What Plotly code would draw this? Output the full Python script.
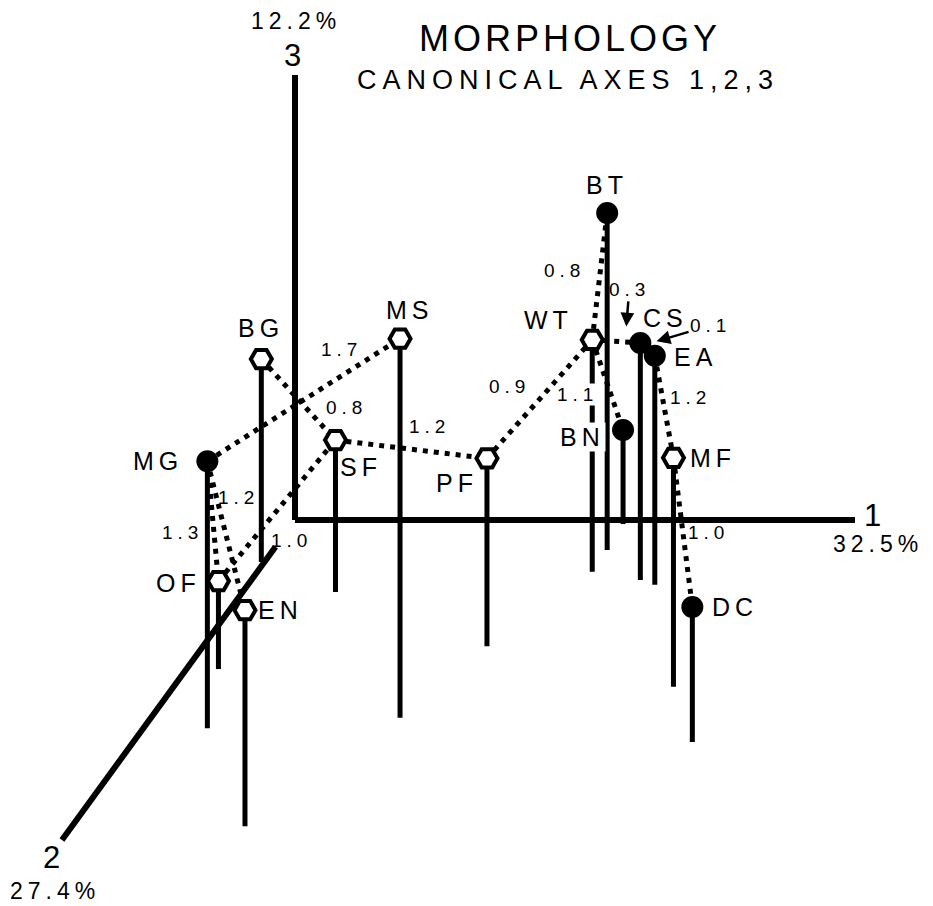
import plotly.graph_objects as go

# ---------------- data (canonical scores) ----------------
groups = ["MG", "BG", "OF", "EN", "SF", "MS", "PF", "WT", "BT", "BN", "CS", "EA", "MF", "DC"]
axis1 = [0.64, -0.03, 0.32, 1.73, 0.93, 2.49, 2.84, 3.35, 3.34, 3.31, 3.89, 4.07, 5.00, 5.59]
axis2 = [2.57, 0.52, 1.84, 3.78, 0.89, 2.44, 1.56, 0.64, 0.37, 0.05, 0.74, 0.80, 2.06, 2.74]
axis3 = [2.67, 2.03, 0.88, 2.16, 1.52, 3.79, 1.88, 2.32, 3.37, 0.94, 2.37, 2.29, 2.29, 1.35]
group_kind = ["closed", "open", "open", "open", "open", "open", "open",
              "open", "closed", "closed", "closed", "closed", "open", "closed"]

link_from = ["MG", "BG", "MG", "MG", "OF", "SF", "PF", "WT", "WT", "CS", "WT", "EA", "MF"]
link_to = ["MS", "SF", "OF", "EN", "SF", "PF", "WT", "BT", "CS", "EA", "BN", "MF", "DC"]
link_dist = ["1.7", "0.8", "1.3", "1.2", "1.0", "1.2", "0.9", "0.8", "0.3", "0.1", "1.1", "1.2", "1.0"]

axis_names = ["1", "2", "3"]
axis_variance = ["32.5%", "27.4%", "12.2%"]
axis1_extent = [0.0, 5.6]
axis2_extent = [0.33, 3.95]
axis3_extent = [0.0, 4.45]

title = "MORPHOLOGY"
subtitle = "CANONICAL AXES 1,2,3"

# ---------------- oblique projection (style / layout) ----------------
W, H = 933, 906
PAGE_OFF = 8  # body margin of the html page
ORIGIN = (295.0, 520.0)
E1 = (100.0, 0.0)
E2 = (-59.0, 81.0)
E3 = (0.0, -100.0)


def proj(a1, a2, a3):
    return (ORIGIN[0] + a1 * E1[0] + a2 * E2[0] + a3 * E3[0],
            ORIGIN[1] + a1 * E1[1] + a2 * E2[1] + a3 * E3[1])


top = {g: proj(a, b, c) for g, a, b, c in zip(groups, axis1, axis2, axis3)}
base = {g: proj(a, b, 0.0) for g, a, b in zip(groups, axis1, axis2)}

FONT = "Liberation Sans, Arial, Helvetica, sans-serif"


def spaced(t, px):
    return f'<span style="letter-spacing:{px}px">{t}</span>'


fig = go.Figure()

# stems
sx, sy = [], []
for g in groups:
    sx += [base[g][0], top[g][0], None]
    sy += [base[g][1], top[g][1], None]
fig.add_trace(go.Scatter(x=sx, y=sy, mode="lines", line=dict(color="black", width=5),
                         hoverinfo="skip", showlegend=False))

# axes
ax_pts = [
    (proj(axis1_extent[0], 0, 0), proj(axis1_extent[1], 0, 0)),
    (proj(0, axis2_extent[0], 0), proj(0, axis2_extent[1], 0)),
    (proj(0, 0, axis3_extent[0]), proj(0, 0, axis3_extent[1])),
]
axx, axy = [], []
for p, q in ax_pts:
    axx += [p[0], q[0], None]
    axy += [p[1], q[1], None]
fig.add_trace(go.Scatter(x=axx, y=axy, mode="lines", line=dict(color="black", width=6),
                         hoverinfo="skip", showlegend=False))

# dotted links
lx, ly = [], []
for a, b in zip(link_from, link_to):
    lx += [top[a][0], top[b][0], None]
    ly += [top[a][1], top[b][1], None]
fig.add_trace(go.Scatter(x=lx, y=ly, mode="lines",
                         line=dict(color="black", width=5, dash="5px,6px"),
                         hoverinfo="skip", showlegend=False))

# markers
for kind in ["open", "closed"]:
    gs = [g for g, k in zip(groups, group_kind) if k == kind]
    if kind == "open":
        mk = dict(symbol="hexagon2", size=21, color="white", line=dict(color="black", width=4))
    else:
        mk = dict(symbol="circle", size=22, color="black", line=dict(color="black", width=0))
    fig.add_trace(go.Scatter(x=[top[g][0] for g in gs], y=[top[g][1] for g in gs],
                             mode="markers", marker=mk, text=gs,
                             hoverinfo="text", showlegend=False))

ann = []

# group labels
name_off = {"BT": (0, -28), "WT": (-44, -20), "CS": (25, -25), "EA": (41, 1),
            "BN": (-41, 7), "MF": (40, 0), "DC": (43, 0), "MG": (-49, 0),
            "BG": (0, -31), "MS": (10, -29), "SF": (26, 27), "PF": (-30, 25),
            "OF": (-40, 2), "EN": (36, 0)}
white_bg = {"BN"}
for g in groups:
    dx, dy = name_off[g]
    ann.append(dict(x=top[g][0] + dx, y=top[g][1] + dy, text=spaced(g, 5), showarrow=False,
                    font=dict(family=FONT, size=25, color="black"),
                    bgcolor="white" if g in white_bg else None, borderpad=0))

# distance labels
dist_off = {0: (38, -50), 1: (48, 8), 2: (-30, 11), 3: (12, -38), 4: (15, 30),
            5: (18, -23), 6: (-30, -13), 7: (-35, -6), 10: (-30, 10), 11: (26, -9),
            12: (26, 0)}
arrow_spec = {8: ((10, -15), (3, -37)), 9: ((9, -8), (54, -16))}
for i, (a, b, d) in enumerate(zip(link_from, link_to, link_dist)):
    mx = (top[a][0] + top[b][0]) / 2
    my = (top[a][1] + top[b][1]) / 2
    if i in arrow_spec:
        (tx, ty), (axo, ayo) = arrow_spec[i]
        ann.append(dict(x=mx + tx, y=my + ty, text=spaced(d, 5), showarrow=True,
                        ax=axo, ay=ayo, arrowhead=2, arrowsize=1.1, arrowwidth=2.5,
                        arrowcolor="black", standoff=0,
                        font=dict(family=FONT, size=19, color="black")))
    else:
        dx, dy = dist_off[i]
        ann.append(dict(x=mx + dx, y=my + dy, text=spaced(d, 5), showarrow=False,
                        font=dict(family=FONT, size=19, color="black"),
                        bgcolor="white" if d == "1.1" else None, borderpad=0))

# axis labels
ends = [ax_pts[0][1], ax_pts[1][1], ax_pts[2][1]]
num_off = [(17, -5), (-10, 18), (-3, -20)]
pct_off = [(23, 24), (-7, 51), (1, -54)]
for e, n, v, no, po in zip(ends, axis_names, axis_variance, num_off, pct_off):
    ann.append(dict(x=e[0] + no[0], y=e[1] + no[1], text=n, showarrow=False,
                    font=dict(family=FONT, size=31, color="black")))
    ann.append(dict(x=e[0] + po[0], y=e[1] + po[1], text=spaced(v, 5), showarrow=False,
                    font=dict(family=FONT, size=23, color="black")))

# titles
ann.append(dict(x=570, y=38, text=spaced(title, 4), showarrow=False,
                font=dict(family=FONT, size=36, color="black")))
ann.append(dict(x=568, y=80, text=spaced(subtitle, 6), showarrow=False,
                font=dict(family=FONT, size=27, color="black")))

for a in ann:
    a.setdefault("xref", "x")
    a.setdefault("yref", "y")
    if a.get("bgcolor") is None:
        a.pop("bgcolor", None)

fig.update_layout(
    width=W - PAGE_OFF, height=H - PAGE_OFF,
    margin=dict(l=0, r=0, t=0, b=0),
    paper_bgcolor="white", plot_bgcolor="white",
    xaxis=dict(range=[PAGE_OFF, W], visible=False, fixedrange=True),
    yaxis=dict(range=[H, PAGE_OFF], visible=False, fixedrange=True),
    annotations=ann,
    showlegend=False,
)

fig.write_html("out.html")
